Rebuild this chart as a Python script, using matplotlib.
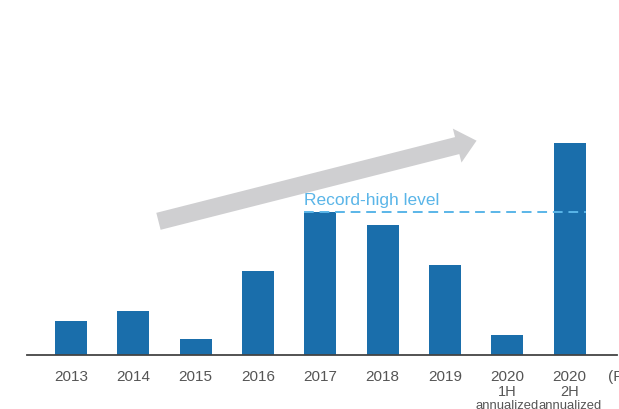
import matplotlib.pyplot as plt
from matplotlib.patches import FancyArrowPatch

# bar values (relative scale)
years = ['2013', '2014', '2015', '2016', '2017', '2018', '2019', '2020', '2020']
halves = ['', '', '', '', '', '', '', '1H', '2H']
values = [34, 44, 16, 84, 143, 130, 90, 20, 212]
record_high = 143

bar_color = '#1a6eab'
accent = '#5ab5e8'
label_color = '#555555'

plt.rcParams['font.family'] = ['Liberation Sans', 'DejaVu Sans']

fig = plt.figure(figsize=(6.19, 4.09), dpi=100)
# axes bottom sits on the baseline, spanning from left edge to right edge
ax = fig.add_axes([27 / 619, (409 - 355) / 409, 590 / 619, 355 / 409])

x = list(range(len(years)))
ax.bar(x, values, width=0.51, color=bar_color, zorder=2)

ax.set_xlim(-0.706, 8.76)
ax.set_ylim(0, 355)

for s in ['top', 'right', 'left']:
    ax.spines[s].set_visible(False)
ax.spines['bottom'].set_color('#444444')
ax.spines['bottom'].set_linewidth(1.3)
ax.set_yticks([])
ax.set_xticks(x)
ax.set_xticklabels(years, fontsize=11, color=label_color)
ax.tick_params(axis='x', length=0, pad=11)

# half-year sub labels under the 2020 ticks
trans = ax.get_xaxis_transform()
for xi, h in zip(x, halves):
    if not h:
        continue
    ax.text(xi, -37 / 355, h, transform=trans, fontsize=10.5,
            color=label_color, ha='center', va='center')
    ax.text(xi, -51 / 355, 'annualized', transform=trans, fontsize=9.4,
            color=label_color, ha='center', va='center')

# record-high reference line from 2017 to the last bar
ax.plot([3.74, 8.26], [record_high, record_high], color=accent,
        lw=1.4, ls=(0, (5, 3)), zorder=3)
ax.text(3.74, record_high + 4, 'Record-high level', color=accent,
        fontsize=12.5, ha='left', va='bottom')

# upward trend arrow
arrow = FancyArrowPatch((1.36, 133), (6.55, 215),
                        arrowstyle='simple,head_length=1.2,head_width=2.1,tail_width=1.05',
                        mutation_scale=12, color='#cfcfd1', lw=0, zorder=1)
ax.add_patch(arrow)

fig.text(608 / 619, 1 - 377 / 409, '(FY)', fontsize=11, color=label_color,
         ha='left', va='center')

fig.savefig('out.png', dpi=100)
